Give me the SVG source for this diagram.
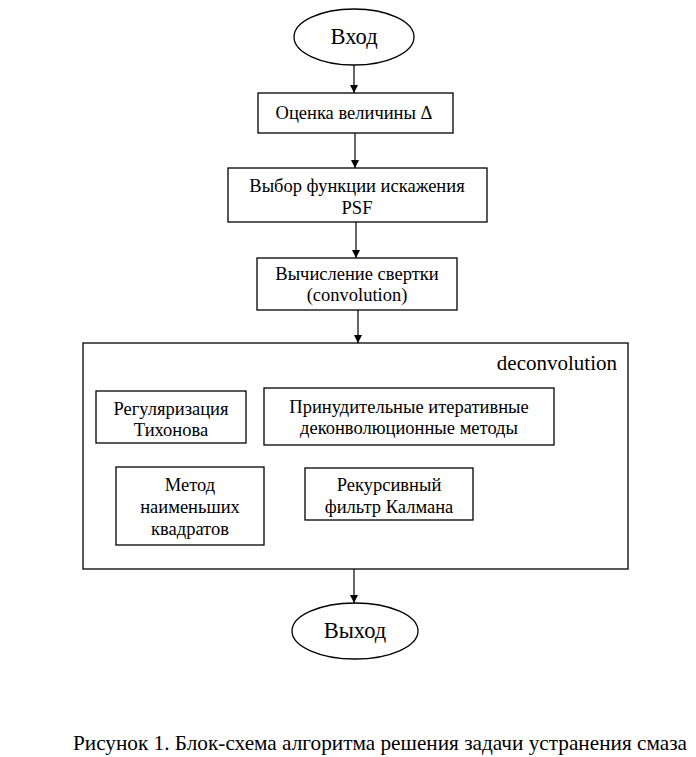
<svg xmlns="http://www.w3.org/2000/svg" width="696" height="757" viewBox="0 0 696 757">
<defs>
<marker id="ah" viewBox="0 0 10 10" refX="10" refY="5" markerWidth="8" markerHeight="10" markerUnits="userSpaceOnUse" orient="auto">
<path d="M0,0 L10,5 L0,10 z" fill="#000"/>
</marker>
</defs>
<style>
.b{fill:#fff;stroke:#000;stroke-width:1.3}
.t{font-size:18.5px;text-anchor:middle}
.o{font-size:22.5px;text-anchor:middle}
.c{stroke:#000;stroke-width:1.2;fill:none;marker-end:url(#ah)}
</style>
<rect width="696" height="757" fill="#fff"/>
<g id="connectors">
<line class="c" x1="354" y1="65" x2="354" y2="93"/>
<line class="c" x1="355" y1="133" x2="355" y2="168"/>
<line class="c" x1="356" y1="222" x2="356" y2="258"/>
<line class="c" x1="358" y1="310" x2="358" y2="343"/>
<line class="c" x1="354" y1="569" x2="354" y2="603"/>
</g>
<g font-family="Liberation Serif, serif" fill="#000">
<g id="input">
<ellipse class="b" cx="354" cy="37" rx="60" ry="28"/>
<text class="o" x="354" y="44">Вход</text>
</g>
<g id="estimate">
<rect class="b" x="258" y="93" width="195" height="40"/>
<text class="t" x="354" y="119">Оценка величины  Δ</text>
</g>
<g id="psf">
<rect class="b" x="228" y="168" width="259" height="54"/>
<text class="t" x="357" y="192">Выбор функции искажения</text>
<text class="t" x="357" y="214">PSF</text>
</g>
<g id="convolution">
<rect class="b" x="257" y="258" width="200" height="52"/>
<text class="t" x="357" y="280">Вычисление свертки</text>
<text class="t" x="357" y="301">(convolution)</text>
</g>
<g id="deconvolution">
<rect class="b" x="83" y="343" width="545" height="226"/>
<text x="617" y="370" style="font-size:21px;text-anchor:end">deconvolution</text>
</g>
<g id="tikhonov">
<rect class="b" x="96" y="391" width="150" height="52"/>
<text class="t" x="171" y="415">Регуляризация</text>
<text class="t" x="171" y="436">Тихонова</text>
</g>
<g id="iterative">
<rect class="b" x="264" y="388" width="290" height="57"/>
<text class="t" x="409" y="413">Принудительные итеративные</text>
<text class="t" x="409" y="434">деконволюционные методы</text>
</g>
<g id="leastsquares">
<rect class="b" x="116" y="467" width="148" height="78"/>
<text class="t" x="190" y="491">Метод</text>
<text class="t" x="190" y="513">наименьших</text>
<text class="t" x="190" y="535">квадратов</text>
</g>
<g id="kalman">
<rect class="b" x="305" y="468" width="168" height="52"/>
<text class="t" x="389" y="491">Рекурсивный</text>
<text class="t" x="389" y="513">фильтр Калмана</text>
</g>
<g id="output">
<ellipse class="b" cx="355" cy="631" rx="63" ry="28"/>
<text class="o" x="355" y="638">Выход</text>
</g>
<text x="73" y="750" font-size="22" textLength="614" lengthAdjust="spacingAndGlyphs">Рисунок 1. Блок-схема алгоритма решения задачи устранения смаза</text>
</g>
</svg>
